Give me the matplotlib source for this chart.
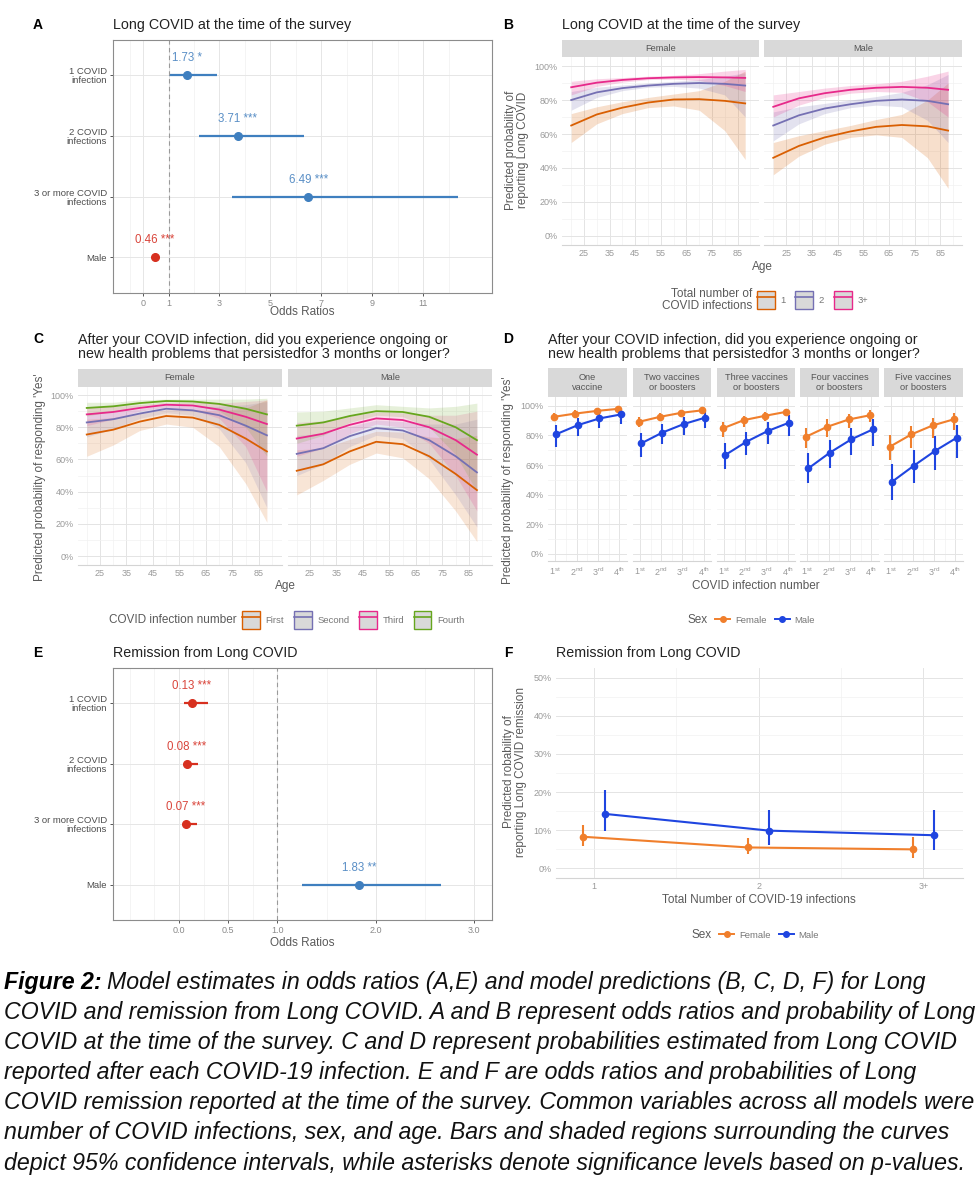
import numpy as np
import matplotlib
matplotlib.use('Agg')
from matplotlib import pyplot as plt
from matplotlib.patches import Patch
from matplotlib.lines import Line2D
from matplotlib.legend_handler import HandlerTuple

plt.rcParams['font.family'] = ['Liberation Sans', 'DejaVu Sans']
plt.rcParams['mathtext.default'] = 'regular'

W, H = 980, 1200

# ---------------- data: panel A / E (odds ratios)
or_terms = ['1 COVID\ninfection', '2 COVID\ninfections', '3 or more COVID\ninfections', 'Male']
a_or = [1.73, 3.71, 6.49, 0.46]
a_lo = [1.02, 2.2, 3.5, 0.38]
a_hi = [2.9, 6.3, 12.35, 0.55]
a_sig = ['*', '***', '***', '***']
e_or = [0.13, 0.08, 0.07, 1.83]
e_lo = [0.05, 0.05, 0.05, 1.25]
e_hi = [0.29, 0.19, 0.18, 2.66]
e_sig = ['***', '***', '***', '**']

# ---------------- data: panel B (long covid at survey, by age)
b_ages = [20, 30, 40, 50, 60, 70, 80, 88]
b_groups = ['1', '2', '3+']
b_female_fit = [[65, 71.5, 75.5, 78.5, 80.3, 80.5, 79.5, 78],
                [80, 84.5, 87, 88.5, 89.5, 90, 89.5, 88.5],
                [87.5, 90.2, 91.8, 92.8, 93.3, 93.5, 93.3, 93]]
b_female_lo = [[55, 66, 72, 75.5, 76.5, 74, 62, 45],
               [74, 81.5, 85.5, 87.5, 88, 87, 83, 70],
               [83, 88, 90.5, 92, 92.3, 91.5, 88.5, 85]]
b_female_hi = [[72, 76, 79, 81.5, 83.5, 85.5, 91, 97],
               [85, 87.5, 88.8, 90, 91, 92, 94, 96],
               [91, 92.5, 93.2, 94, 94.5, 95.5, 97, 98]]
b_male_fit = [[46, 53, 58, 61.5, 64.2, 65.3, 64.5, 62],
              [65, 71, 75, 77.5, 79.5, 80.3, 79.5, 77.5],
              [76, 81, 84, 86, 87.2, 87.7, 87.2, 86]]
b_male_lo = [[36, 47, 54, 58, 59.5, 58, 46, 28],
             [56, 66, 72, 75.5, 77, 76, 68, 55],
             [70, 77, 81.5, 84, 85, 84.5, 79, 70]]
b_male_hi = [[55, 59, 62, 65, 68.5, 71.5, 80, 90],
             [73, 76, 78, 80, 82, 84.5, 89, 95],
             [83, 85, 87, 88.5, 89.5, 91, 94, 97]]

# ---------------- data: panel C (yes after each infection, by age)
c_ages = [20, 30, 40, 50, 60, 70, 80, 88]
c_groups = ['First', 'Second', 'Third', 'Fourth']
c_female_fit = [[75.5, 78.5, 83.5, 87, 86, 81.5, 73, 65],
                [83, 85, 88.5, 91.5, 90.5, 87.5, 81, 75],
                [88, 89.5, 92, 94, 93.5, 91, 86.5, 82],
                [92, 93, 95, 96.3, 96, 94.5, 91.5, 88]]
c_female_lo = [[62, 69, 78, 82, 80, 68, 45, 21],
               [74, 79, 85.5, 89, 87.5, 79, 58, 30],
               [81, 85, 90, 92.5, 91, 85.5, 68, 40],
               [87, 90, 93, 95, 94, 90, 80, 62]]
c_female_hi = [[85, 86, 88.5, 91, 91, 90, 92, 97],
               [89, 89.5, 91.5, 94, 93, 93, 94, 96],
               [92.5, 93, 94, 95.5, 95.5, 95, 96, 97],
               [95.5, 95.5, 97, 97.5, 97.5, 97.5, 97.5, 98]]
c_male_fit = [[53, 57, 65, 71, 69.5, 62, 51, 41],
              [63.5, 67, 74.5, 79.5, 78, 72, 62, 52],
              [73, 76, 81.5, 85.5, 84.5, 80, 72, 63],
              [81, 83, 87, 90, 89.5, 86.5, 80, 72]]
c_male_lo = [[38, 47, 57, 64, 61, 48, 28, 9],
             [50, 57, 68, 75, 73, 60, 38, 18],
             [62, 67, 76, 82, 80, 70, 50, 28],
             [70, 75, 83, 87.5, 86.5, 80, 63, 40]]
c_male_hi = [[66, 67, 72.5, 77.5, 77, 74, 73, 75],
             [75, 76, 80.5, 84.5, 83.5, 82, 82, 85],
             [83, 84, 87, 89.5, 89, 87.5, 87.5, 90],
             [89.5, 90, 92, 94, 93, 92, 93, 95]]

# ---------------- data: panel D (by vaccine count and infection number)
d_facets = ['One\nvaccine', 'Two vaccines\nor boosters', 'Three vaccines\nor boosters',
            'Four vaccines\nor boosters', 'Five vaccines\nor boosters']
d_inf = [1, 2, 3, 4]
d_inf_labels = [r'1$^{st}$', r'2$^{nd}$', r'3$^{rd}$', r'4$^{th}$']
d_female = [[92.6, 94.8, 96.6, 98], [89.2, 92.6, 95.3, 97], [84.8, 90.4, 93.3, 96],
            [79.1, 85.9, 90.8, 93.7], [72.4, 80.7, 86.8, 91]]
d_female_lo = [[89.5, 92, 94.5, 96.5], [85.5, 89.5, 93, 95.5], [78.7, 86, 90, 93.5],
               [71.3, 79, 84.8, 89.2], [63.5, 71.3, 78, 83.6]]
d_female_hi = [[95.5, 97, 98.3, 99], [92.5, 95.5, 97, 98.5], [89.2, 93.5, 96, 97.5],
               [85.2, 90.8, 94.8, 97], [80.3, 86.3, 91.5, 95.3]]
d_male = [[80.9, 87, 91.5, 94.2], [74.7, 82, 87.7, 92], [66.8, 75.8, 83, 88.6],
          [57.8, 68.4, 77.4, 84.1], [48.9, 59.6, 69.7, 78.5]]
d_male_lo = [[72, 79.6, 84.8, 88], [65.7, 74.2, 80.3, 84.8], [57.2, 66.8, 74.2, 79.6],
             [47.8, 57.8, 66.8, 72.9], [36.5, 47.8, 56.7, 64.6]]
d_male_hi = [[87, 91.5, 95.5, 97], [81.4, 87.7, 92.6, 96.6], [74.7, 82.5, 89.2, 93.7],
             [68, 77, 84.8, 91], [60.5, 70, 79.6, 87.4]]

# ---------------- data: panel F (remission)
f_x = [1, 2, 3]
f_x_labels = ['1', '2', '3+']
f_female = [8.3, 5.5, 5.0]
f_female_lo = [6.0, 3.8, 2.7]
f_female_hi = [11.3, 8.0, 8.2]
f_male = [14.3, 9.9, 8.7]
f_male_lo = [9.7, 6.2, 4.8]
f_male_hi = [20.5, 15.2, 15.2]

caption_lines = [
    'Model estimates in odds ratios (A,E) and model predictions (B, C, D, F) for Long',
    'COVID and remission from Long COVID. A and B represent odds ratios and probability of Long',
    'COVID at the time of the survey. C and D represent probabilities estimated from Long COVID',
    'reported after each COVID-19 infection. E and F are odds ratios and probabilities of Long',
    'COVID remission reported at the time of the survey. Common variables across all models were',
    'number of COVID infections, sex, and age. Bars and shaded regions surrounding the curves',
    'depict 95% confidence intervals, while asterisks denote significance levels based on p-values.']

# ---------------- styles
BLUE_OR, RED_OR = '#3f7fbf', '#d7301f'
BLUE_LBL, RED_LBL = '#5a8fc6', '#d9453b'
DARK2 = ['#d95f02', '#7570b3', '#e7298a', '#66a61e']
SEX_F, SEX_M = '#f07f2c', '#1f45e0'
TICK_C = '#9a9a9a'
TITLE_C = '#5a5a5a'

fig = plt.figure(figsize=(W / 100, H / 100), dpi=100)


def px_axes(x0, y0, x1, y1):
    return fig.add_axes([x0 / W, 1 - y1 / H, (x1 - x0) / W, (y1 - y0) / H])


def px_text(x, y, s, **kw):
    return fig.text(x / W, 1 - y / H, s, **kw)


def add_strip(x0, y0, x1, y1, label):
    sa = px_axes(x0, y0, x1, y1)
    sa.set_facecolor('#d9d9d9')
    sa.set_xticks([])
    sa.set_yticks([])
    for s in sa.spines.values():
        s.set_visible(False)
    sa.text(0.5, 0.5, label, ha='center', va='center', fontsize=6.7,
            color='#555555', transform=sa.transAxes, linespacing=1.15)


def style_min(ax, xmaj, xmin, ymaj, ymin):
    for s in ax.spines.values():
        s.set_visible(False)
    ax.spines['bottom'].set_visible(True)
    ax.spines['bottom'].set_color('#d4d4d4')
    ax.set_xticks(xmaj)
    ax.set_xticks(xmin, minor=True)
    ax.set_yticks(ymaj)
    ax.set_yticks(ymin, minor=True)
    ax.grid(which='major', color='#e4e4e4', lw=0.7)
    ax.grid(which='minor', color='#f1f1f1', lw=0.5)
    ax.tick_params(which='both', length=0, labelsize=6.5, labelcolor=TICK_C, pad=3)
    ax.set_axisbelow(True)


def pct(vals):
    return ['{0}%'.format(int(round(v * 100))) for v in vals]


def forest(ax, ors, los, his, sigs, xmaj, xlab, xmin):
    ypos = [4, 3, 2, 1]
    for i in range(len(ors)):
        col = BLUE_OR if ors[i] > 1 else RED_OR
        lcol = BLUE_LBL if ors[i] > 1 else RED_LBL
        ax.plot([los[i], his[i]], [ypos[i], ypos[i]], color=col, lw=1.6, solid_capstyle='butt')
        ax.plot(ors[i], ypos[i], 'o', color=col, ms=5.5)
        ax.text(ors[i], ypos[i] + 0.28, '{0:.2f} {1}'.format(ors[i], sigs[i]),
                ha='center', va='center', fontsize=8.3, color=lcol)
    ax.axvline(1, color='#9a9a9a', ls=(0, (4, 3)), lw=0.8)
    ax.set_yticks(ypos)
    ax.set_yticklabels(or_terms, fontsize=6.8, color='#4d4d4d', linespacing=1.0)
    ax.set_xticks(xmaj)
    ax.set_xticklabels(xlab, fontsize=6.5, color='#8a8a8a')
    ax.set_xticks(xmin, minor=True)
    ax.grid(which='major', color='#e6e6e6', lw=0.7)
    ax.grid(which='minor', axis='x', color='#f0f0f0', lw=0.5)
    ax.tick_params(which='major', length=2.5, width=0.7, color='#555555', pad=2)
    ax.tick_params(which='minor', length=0)
    for s in ax.spines.values():
        s.set_color('#8c8c8c')
        s.set_linewidth(0.8)
    ax.set_axisbelow(True)


def band_legend(groups, colors, x, y):
    hs = [(Patch(facecolor='#d9d9d9', edgecolor=colors[g], lw=1.0),
           Line2D([], [], color=colors[g], lw=1.2)) for g in range(len(groups))]
    fig.legend(hs, groups, loc='center left', bbox_to_anchor=(x / W, 1 - y / H), ncol=len(groups),
               frameon=False, fontsize=6.8, labelcolor='#777777', handlelength=1.9, handleheight=2.7,
               handletextpad=0.6, columnspacing=1.0, borderpad=0, borderaxespad=0,
               handler_map={tuple: HandlerTuple(ndivide=1, pad=0)})


# ================= panel A
ax = px_axes(113, 40, 492, 293)
forest(ax, a_or, a_lo, a_hi, a_sig, [0, 1, 3, 5, 7, 9, 11],
       ['0', '1', '3', '5', '7', '9', '11'], [-0.5, 2, 4, 6, 8, 10, 12])
ax.set_xlim(-1.18, 13.7)
ax.set_ylim(0.41, 4.58)
px_text(38, 25, 'A', fontsize=10, fontweight='bold', ha='center', va='center')
px_text(113, 25, 'Long COVID at the time of the survey', fontsize=10.3, color='#222222', va='center')
px_text(302, 312, 'Odds Ratios', fontsize=8.5, color=TITLE_C, ha='center', va='center')

# ================= panel B
b_axes_x = [(562, 759), (764, 962)]
b_data = [(b_female_fit, b_female_lo, b_female_hi), (b_male_fit, b_male_lo, b_male_hi)]
for k, sex in enumerate(['Female', 'Male']):
    x0, x1 = b_axes_x[k]
    add_strip(x0, 40, x1, 57, sex)
    ax = px_axes(x0, 57, x1, 245)
    fits, los, his = b_data[k]
    for g in range(len(b_groups)):
        ax.fill_between(b_ages, np.array(los[g]) / 100, np.array(his[g]) / 100,
                        color=DARK2[g], alpha=0.2, lw=0)
        ax.plot(b_ages, np.array(fits[g]) / 100, color=DARK2[g], lw=1.3)
    style_min(ax, [25, 35, 45, 55, 65, 75, 85], [20, 30, 40, 50, 60, 70, 80, 90],
              [0, 0.2, 0.4, 0.6, 0.8, 1.0], [0.1, 0.3, 0.5, 0.7, 0.9])
    ax.set_xlim(16.4, 93.4)
    ax.set_ylim(-0.053, 1.053)
    if k == 0:
        ax.set_yticklabels(pct([0, 0.2, 0.4, 0.6, 0.8, 1.0]))
    else:
        ax.set_yticklabels([])
px_text(508, 25, 'B', fontsize=10, fontweight='bold', ha='center', va='center')
px_text(562, 25, 'Long COVID at the time of the survey', fontsize=10.3, color='#222222', va='center')
px_text(517, 150, 'Predicted probability of\nreporting Long COVID', fontsize=8.5, color=TITLE_C,
        rotation=90, ha='center', va='center', linespacing=1.05)
px_text(762, 267, 'Age', fontsize=8.5, color=TITLE_C, ha='center', va='center')
px_text(752, 300, 'Total number of\nCOVID infections', fontsize=8.5, color=TITLE_C,
        ha='right', va='center', linespacing=1.0)
band_legend(b_groups, DARK2, 757, 300)

# ================= panel C
c_axes_x = [(78, 282), (288, 492)]
c_data = [(c_female_fit, c_female_lo, c_female_hi), (c_male_fit, c_male_lo, c_male_hi)]
for k, sex in enumerate(['Female', 'Male']):
    x0, x1 = c_axes_x[k]
    add_strip(x0, 369, x1, 387, sex)
    ax = px_axes(x0, 387, x1, 565)
    fits, los, his = c_data[k]
    for g in range(len(c_groups)):
        ax.fill_between(c_ages, np.array(los[g]) / 100, np.array(his[g]) / 100,
                        color=DARK2[g], alpha=0.16, lw=0)
        ax.plot(c_ages, np.array(fits[g]) / 100, color=DARK2[g], lw=1.3)
    style_min(ax, [25, 35, 45, 55, 65, 75, 85], [20, 30, 40, 50, 60, 70, 80, 90],
              [0, 0.2, 0.4, 0.6, 0.8, 1.0], [0.1, 0.3, 0.5, 0.7, 0.9])
    ax.set_xlim(16.7, 93.7)
    ax.set_ylim(-0.055, 1.05)
    if k == 0:
        ax.set_yticklabels(pct([0, 0.2, 0.4, 0.6, 0.8, 1.0]))
    else:
        ax.set_yticklabels([])
px_text(38, 339, 'C', fontsize=10, fontweight='bold', ha='center', va='center')
px_text(78, 347, 'After your COVID infection, did you experience ongoing or\n'
        'new health problems that persistedfor 3 months or longer?',
        fontsize=10.3, color='#222222', va='center', linespacing=1.05)
px_text(40, 477, "Predicted probability of responding 'Yes'", fontsize=8.5, color=TITLE_C,
        rotation=90, ha='center', va='center')
px_text(285, 586, 'Age', fontsize=8.5, color=TITLE_C, ha='center', va='center')
px_text(237, 620, 'COVID infection number', fontsize=8.5, color=TITLE_C, ha='right', va='center')
band_legend(c_groups, DARK2, 242, 620)

# ================= panel D
d_axes_x = [(548, 627), (633, 711), (717, 795), (800, 879), (884, 963)]
for k in range(len(d_facets)):
    x0, x1 = d_axes_x[k]
    add_strip(x0, 368, x1, 397, d_facets[k])
    ax = px_axes(x0, 397, x1, 561)
    xf = np.array(d_inf) - 0.06
    xm = np.array(d_inf) + 0.06
    yf = np.array(d_female[k]) / 100
    ym = np.array(d_male[k]) / 100
    ax.vlines(xf, np.array(d_female_lo[k]) / 100, np.array(d_female_hi[k]) / 100, color=SEX_F, lw=1.5)
    ax.vlines(xm, np.array(d_male_lo[k]) / 100, np.array(d_male_hi[k]) / 100, color=SEX_M, lw=1.5)
    ax.plot(xf, yf, '-o', color=SEX_F, lw=1.5, ms=4.5)
    ax.plot(xm, ym, '-o', color=SEX_M, lw=1.5, ms=4.5)
    style_min(ax, d_inf, [1.5, 2.5, 3.5], [0, 0.2, 0.4, 0.6, 0.8, 1.0], [0.1, 0.3, 0.5, 0.7, 0.9])
    ax.set_xticklabels(d_inf_labels)
    ax.set_xlim(0.67, 4.35)
    ax.set_ylim(-0.048, 1.06)
    if k == 0:
        ax.set_yticklabels(pct([0, 0.2, 0.4, 0.6, 0.8, 1.0]))
    else:
        ax.set_yticklabels([])
px_text(508, 339, 'D', fontsize=10, fontweight='bold', ha='center', va='center')
px_text(548, 347, 'After your COVID infection, did you experience ongoing or\n'
        'new health problems that persistedfor 3 months or longer?',
        fontsize=10.3, color='#222222', va='center', linespacing=1.05)
px_text(508, 480, "Predicted probability of responding 'Yes'", fontsize=8.5, color=TITLE_C,
        rotation=90, ha='center', va='center')
px_text(756, 586, 'COVID infection number', fontsize=8.5, color=TITLE_C, ha='center', va='center')
px_text(708, 620, 'Sex', fontsize=8.5, color=TITLE_C, ha='right', va='center')
hd = [Line2D([], [], color=SEX_F, marker='o', ms=4, lw=1.4),
      Line2D([], [], color=SEX_M, marker='o', ms=4, lw=1.4)]
fig.legend(hd, ['Female', 'Male'], loc='center left', bbox_to_anchor=(715 / W, 1 - 620 / H), ncol=2,
           frameon=False, fontsize=6.8, labelcolor='#777777', handlelength=1.6,
           handletextpad=0.5, columnspacing=0.9, borderpad=0, borderaxespad=0)

# ================= panel E
ax = px_axes(113, 668, 492, 920)
forest(ax, e_or, e_lo, e_hi, e_sig, [0, 0.5, 1.0, 2.0, 3.0],
       ['0.0', '0.5', '1.0', '2.0', '3.0'], [-0.5, -0.25, 0.25, 0.75, 1.5, 2.5])
ax.set_xlim(-0.67, 3.18)
ax.set_ylim(0.42, 4.58)
px_text(38, 653, 'E', fontsize=10, fontweight='bold', ha='center', va='center')
px_text(113, 653, 'Remission from Long COVID', fontsize=10.3, color='#222222', va='center')
px_text(302, 943, 'Odds Ratios', fontsize=8.5, color=TITLE_C, ha='center', va='center')

# ================= panel F
ax = px_axes(556, 668, 963, 878)
xf = np.array(f_x) - 0.065
xm = np.array(f_x) + 0.065
ax.vlines(xf, np.array(f_female_lo) / 100, np.array(f_female_hi) / 100, color=SEX_F, lw=1.5)
ax.vlines(xm, np.array(f_male_lo) / 100, np.array(f_male_hi) / 100, color=SEX_M, lw=1.5)
ax.plot(xf, np.array(f_female) / 100, '-o', color=SEX_F, lw=1.5, ms=4.5)
ax.plot(xm, np.array(f_male) / 100, '-o', color=SEX_M, lw=1.5, ms=4.5)
style_min(ax, f_x, [1.5, 2.5], [0, 0.1, 0.2, 0.3, 0.4, 0.5], [0.05, 0.15, 0.25, 0.35, 0.45])
ax.set_xticklabels(f_x_labels)
ax.set_yticklabels(pct([0, 0.1, 0.2, 0.3, 0.4, 0.5]))
ax.set_xlim(0.77, 3.24)
ax.set_ylim(-0.025, 0.525)
px_text(508, 653, 'F', fontsize=10, fontweight='bold', ha='center', va='center')
px_text(556, 653, 'Remission from Long COVID', fontsize=10.3, color='#222222', va='center')
px_text(515, 772, 'Predicted robability of\nreporting Long COVID remission', fontsize=8.5,
        color=TITLE_C, rotation=90, ha='center', va='center', linespacing=1.05)
px_text(759, 900, 'Total Number of COVID-19 infections', fontsize=8.5, color=TITLE_C,
        ha='center', va='center')
px_text(712, 935, 'Sex', fontsize=8.5, color=TITLE_C, ha='right', va='center')
fig.legend(hd, ['Female', 'Male'], loc='center left', bbox_to_anchor=(719 / W, 1 - 935 / H), ncol=2,
           frameon=False, fontsize=6.8, labelcolor='#777777', handlelength=1.6,
           handletextpad=0.5, columnspacing=0.9, borderpad=0, borderaxespad=0)

# ================= caption
cap_font = ['Liberation Sans Narrow', 'Liberation Sans', 'DejaVu Sans']
cap_fs = 15.0
cap_y0, cap_dy = 982, 30.2
renderer = fig.canvas.get_renderer()
bold = px_text(4, cap_y0, 'Figure 2:', fontsize=cap_fs, fontweight='bold', style='italic',
               family=cap_font, va='center')
cap_texts = []
for i, line in enumerate(caption_lines):
    cap_texts.append(px_text(4, cap_y0 + i * cap_dy, line, fontsize=cap_fs, style='italic',
                             family=cap_font, va='center', color='#111111'))
widths = [t.get_window_extent(renderer).width for t in cap_texts[1:]]
scale = 972.0 / max(widths)
bold.set_fontsize(cap_fs * scale)
for t in cap_texts:
    t.set_fontsize(cap_fs * scale)
bw = bold.get_window_extent(renderer).width
cap_texts[0].set_x((4 + bw + 5) / W)

fig.savefig('out.png', dpi=100)
